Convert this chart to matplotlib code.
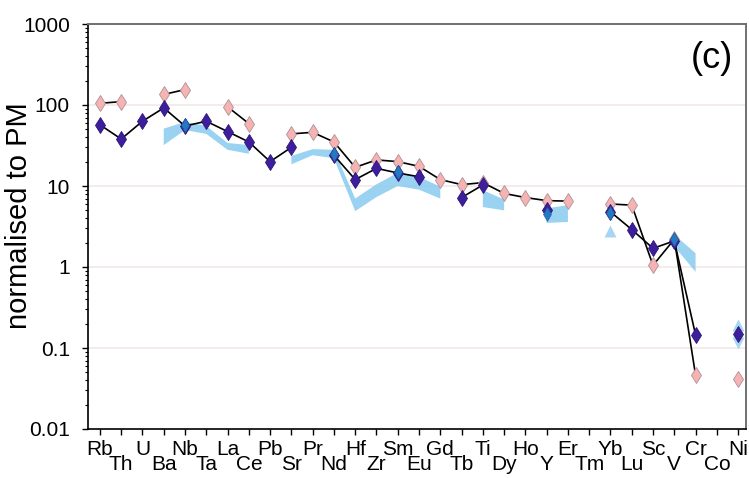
import numpy as np
import matplotlib
matplotlib.use("Agg")
import matplotlib.pyplot as plt
from matplotlib.ticker import FixedLocator, LogLocator, NullFormatter, FixedFormatter

nan = np.nan
elements = ['Rb', 'Th', 'U', 'Ba', 'Nb', 'Ta', 'La', 'Ce', 'Pb', 'Sr', 'Pr', 'Nd',
            'Hf', 'Zr', 'Sm', 'Eu', 'Gd', 'Tb', 'Ti', 'Dy', 'Ho', 'Y', 'Er', 'Tm',
            'Yb', 'Lu', 'Sc', 'V', 'Cr', 'Co', 'Ni']

sample_purple = [57, 38, 63, 92, 55, 63, 47, 35, 20, 30, nan, 24,
                 12, 16.5, 14.5, 13, nan, 7.2, 10.3, nan, nan, 5.0, nan, nan,
                 4.8, 2.9, 1.7, 2.1, 0.145, nan, 0.15]

sample_pink = [105, 110, nan, 135, 155, nan, 95, 59, nan, 44, 46, 35,
               17, 21, 20, 17.5, 12, 10.4, 11, 8.1, 7.2, 6.6, 6.5, nan,
               6.0, 5.8, 1.05, 2.2, 0.046, nan, 0.042]

sample_blue = [nan, nan, nan, nan, 56, nan, nan, nan, nan, nan, nan, 25,
               nan, nan, 15, nan, nan, nan, nan, nan, nan, 4.5, nan, nan,
               4.7, nan, nan, 2.2, nan, nan, nan]

field_low = [nan, nan, nan, 32, 49, 44, 28, 25, nan, 18.5, 24, 22,
             4.9, 7.3, 10, 9, 7, nan, 5.5, 5.0, nan, 3.5, 3.6, nan,
             nan, nan, nan, 1.8, 0.87, nan, nan]
field_high = [nan, nan, nan, 51, 62, 55, 34, 32, nan, 23.5, 28.5, 28,
              7, 10.5, 14.5, 13, 9.8, nan, 8.9, 6.8, nan, 5.3, 5.8, nan,
              nan, nan, nan, 2.5, 1.48, nan, nan]

# isolated field values shown as small markers
field_pts_el = ['Yb', 'Ni', 'Ni']
field_pts_val = [2.75, 0.19, 0.115]
field_pts_mk = ['^', '^', 'v']

ytick_vals = [0.01, 0.1, 1, 10, 100, 1000]
ytick_labels = ['0.01', '0.1', '1', '10', '100', '1000']

FONT = 'Liberation Sans'
plt.rcParams['font.family'] = [FONT, 'DejaVu Sans']

fig = plt.figure(figsize=(7.49, 4.78), dpi=100)
ax = fig.add_axes([88/749, 1-429/478, (746-88)/749, (429-24)/478])
ax.set_yscale('log')

x = np.arange(len(elements))
lo = np.array(field_low, float)
hi = np.array(field_high, float)
mask = ~np.isnan(lo)
ax.fill_between(x, np.where(mask, lo, 1), np.where(mask, hi, 1), where=mask,
                color='#8fcdf0', lw=0, alpha=0.9, zorder=1, interpolate=False)
for el, v, mk in zip(field_pts_el, field_pts_val, field_pts_mk):
    ax.plot(elements.index(el), v, marker=mk, ms=8, color='#a6d6f2', mec='none', zorder=1)

for gv in [0.1, 1, 10, 100]:
    ax.axhline(gv, color='#f2e8e8', lw=1.2, zorder=0)

pur = np.array(sample_purple, float)
pnk = np.array(sample_pink, float)
blu = np.array(sample_blue, float)

ax.plot(x, pnk, '-', color='black', lw=1.2, zorder=2)
ax.plot(x, pur, '-', color='black', lw=1.2, zorder=2)
ax.plot(x, pnk, 'd', ms=7.8, mfc='#f5b3b3', mec='#b09095', mew=0.6, zorder=3)
ax.plot(x, pur, 'd', ms=7.8, mfc='#3d1f9e', mec='#2a1475', mew=0.6, zorder=4)
ax.plot(x, blu, 'd', ms=7.0, mfc='#2479c2', mec='#1d5fa0', mew=0.4, zorder=5)

ax.set_xlim(-0.56, 30.37)
ax.set_ylim(0.01, 1000)

ax.set_yticks(ytick_vals)
ax.set_yticklabels(ytick_labels)
ax.yaxis.set_minor_locator(LogLocator(base=10, subs=np.arange(2, 10)))
ax.yaxis.set_minor_formatter(NullFormatter())
ax.tick_params(axis='y', which='major', direction='out', length=4, width=1,
               labelsize=15, pad=9)
ax.tick_params(axis='y', which='minor', direction='out', length=2, width=0.8)

even = x[::2]
odd = x[1::2]
ax.xaxis.set_major_locator(FixedLocator(even))
ax.xaxis.set_minor_locator(FixedLocator(odd))
ax.set_xticklabels([elements[i] for i in even])
ax.xaxis.set_minor_formatter(FixedFormatter([elements[i] for i in odd]))
ax.tick_params(axis='x', which='major', direction='out', length=4, width=1,
               labelsize=15, pad=4)
ax.tick_params(axis='x', which='minor', direction='out', length=4, width=1,
               labelsize=15, pad=15)

for s in ['left', 'bottom']:
    ax.spines[s].set_color('black')
    ax.spines[s].set_linewidth(1.2)
for s in ['top', 'right']:
    ax.spines[s].set_color('#707070')
    ax.spines[s].set_linewidth(1.4)

fig.text(712/749, 1-58/478, '(c)', fontsize=26, ha='center', va='center')
fig.text(19/749, 1-216/478, 'normalised to PM', rotation=90, fontsize=21,
         ha='center', va='center')

fig.savefig('out.png', dpi=100)
